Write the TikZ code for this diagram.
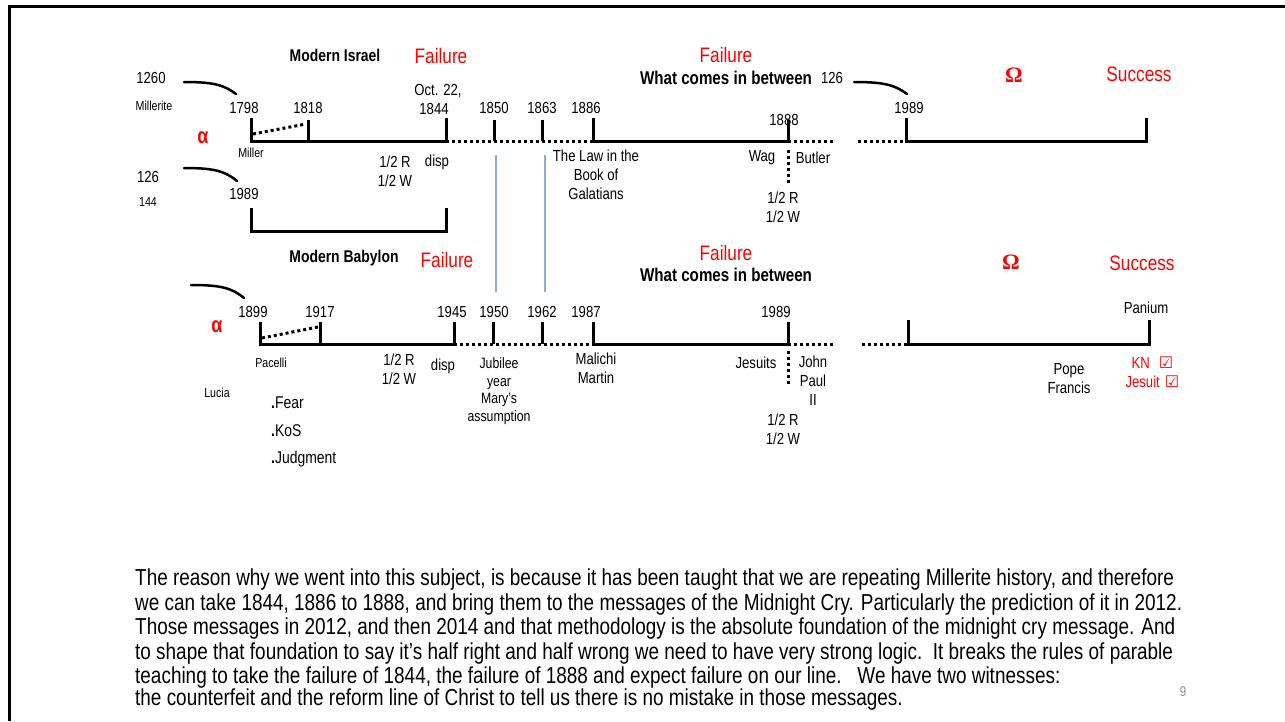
\documentclass[tikz,border=0pt]{standalone}
\usepackage{fontspec}
\setmainfont{Liberation Sans}[FakeStretch=0.82]
\newfontfamily\symf{DejaVu Sans}
\newfontfamily\serf{Liberation Serif}
\definecolor{failred}{RGB}{255,0,0}
\definecolor{bluel}{RGB}{143,170,220}
\definecolor{pgray}{RGB}{140,140,140}
\tikzset{
  lbl/.style={inner sep=0pt, font=\fontsize{16}{19}\selectfont, align=center},
  jub/.style={inner sep=0pt, font=\fontsize{15}{17.5}\selectfont, align=center},
  sml/.style={inner sep=0pt, font=\fontsize{13}{15}\selectfont},
  ttl/.style={inner sep=0pt, font=\bfseries\fontsize{17}{20}\selectfont},
  wcb/.style={inner sep=0pt, font=\bfseries\fontsize{18.5}{21}\selectfont},
  fail/.style={inner sep=0pt, text=failred, font=\fontsize{21}{24}\selectfont},
  grk/.style={inner sep=0pt, text=failred, font=\bfseries\fontsize{22}{24}\selectfont},
  omg/.style={inner sep=0pt, text=failred, font=\serf\bfseries\fontsize{22}{24}\selectfont},
  chk/.style={inner sep=0pt, text=failred, font=\fontsize{16}{18}\selectfont},
  bul/.style={inner sep=0pt, anchor=west, font=\fontsize{17}{20}\selectfont},
  para/.style={inner sep=0pt, anchor=west, font=\fontsize{23.1}{25}\selectfont},
  tl/.style={line width=3pt, line join=miter},
  dotl/.style={line width=3pt, dash pattern=on 3pt off 3pt},
  hook/.style={line width=2.5pt, line cap=round},
  bline/.style={line width=1.4pt, draw=bluel}
}
\begin{document}
\begin{tikzpicture}[x=1pt,y=-1pt]
\useasboundingbox (0,0) rectangle (1285,721);
\fill[white] (0,0) rectangle (1285,721);
% frame
\coordinate (fbl) at (9,721);
\coordinate (ftl) at (9,6);
\coordinate (ftr) at (1285,6);
\draw[line width=3pt] (fbl) -- (ftl) -- (ftr);

% ===== top timeline =====
\foreach \n/\x/\t in {t1/251/118, t2/308/120, t3/446/118, t4/494/120, t5/542/120, t6/593/118, t7/788/120, t10/906/118, t11/1146/118}{
  \coordinate (\n) at (\x,141); \coordinate (\n u) at (\x,\t);}
\coordinate (t8) at (833,141);
\coordinate (t9) at (858,141);

\node[lbl] (y1798) at (244,108) {1798};
\node[lbl] (y1818) at (308,108) {1818};
\node[lbl] (y1844) at (434,99) {\hspace*{8pt}Oct. 22,\\1844};
\node[lbl] (y1850) at (494,108) {1850};
\node[lbl] (y1863) at (542,108) {1863};
\node[lbl] (y1886) at (586,108) {1886};
\node[lbl] (y1888) at (784,120) {1888};
\node[lbl] (y1989a) at (909,108) {1989};

\draw[tl] (t1u) -- (t1) -- (t3) -- (t3u);
\draw[tl] (t2) -- (t2u);
\draw[tl] (t4) -- (t4u);
\draw[tl] (t5) -- (t5u);
\draw[tl] (t6u) -- (t6) -- (t7) -- (t7u);
\draw[tl] (t10u) -- (t10) -- (t11) -- (t11u);
\draw[dotl] (t3) -- (t6);
\draw[dotl] (t7) -- (t8);
\draw[dotl] (t9) -- (t10);
\coordinate (d1a) at (253,134); \coordinate (d1b) at (306,124);
\draw[dotl] (d1a) -- (d1b);
\coordinate (v1a) at (788,150); \coordinate (v1b) at (788,183);
\draw[dotl] (v1a) -- (v1b);

\node[lbl] (n1260) at (151,78) {1260};
\node[sml] (nmillerite) at (154,106) {Millerite};
\coordinate (h1a) at (184,82); \coordinate (h1b) at (236,94);
\draw[hook] (h1a) .. controls (214,82) and (224,85) .. (h1b);
\node[grk] (alpha1) at (203,138) {α};
\node[sml] (nmiller) at (251,153) {Miller};
\node[lbl] (hr1) at (395,171) {1/2 R\\1/2 W};
\node[lbl] (disp1) at (437,162) {disp};
\node[lbl] (galat) at (596,175) {The Law in the\\Book of\\Galatians};
\node[lbl] (wag) at (762,158) {Wag};
\node[lbl] (butler) at (813,158) {Butler};
\node[lbl] (hr2) at (783,207) {1/2 R\\1/2 W};

\node[ttl] (israel) at (335,55) {Modern Israel};
\node[fail] (fail1) at (441,56) {Failure};
\node[fail] (fail2) at (726,55) {Failure};
\node[wcb] (wcb1) at (726,78) {What comes in between};
\node[lbl] (n126b) at (832,78) {126};
\coordinate (h3a) at (854,82); \coordinate (h3b) at (907,94);
\draw[hook] (h3a) .. controls (884,82) and (895,85) .. (h3b);
\node[omg] (omega1) at (1014,75) {Ω};
\node[fail] (succ1) at (1139,74) {Success};

% bracket
\node[lbl] (n126a) at (148,177) {126};
\node[sml] (n144) at (148,202) {144};
\coordinate (h2a) at (184,168); \coordinate (h2b) at (237,181);
\draw[hook] (h2a) .. controls (214,168) and (225,171) .. (h2b);
\node[lbl] (y1989b) at (244,194) {1989};
\coordinate (b1u) at (251,208); \coordinate (b1) at (251,231);
\coordinate (b2) at (446,231); \coordinate (b2u) at (446,208);
\draw[tl] (b1u) -- (b1) -- (b2) -- (b2u);

% blue lines
\coordinate (bl1a) at (496,155); \coordinate (bl1b) at (496,292);
\coordinate (bl2a) at (545,155); \coordinate (bl2b) at (545,292);
\draw[bline] (bl1a) -- (bl1b);
\draw[bline] (bl2a) -- (bl2b);

% ===== bottom timeline =====
\foreach \n/\x/\t in {s1/260/322, s2/320/322, s3/454/322, s4/493/322, s5/542/322, s6/593/322, s7/788/322, s10/908/320, s11/1149/320}{
  \coordinate (\n) at (\x,344); \coordinate (\n u) at (\x,\t);}
\coordinate (s8) at (833,344);
\coordinate (s9) at (862,344);

\node[ttl] (babylon) at (344,258) {Modern Babylon};
\node[fail] (fail3) at (447,260) {Failure};
\node[fail] (fail4) at (726,253) {Failure};
\node[wcb] (wcb2) at (726,275) {What comes in between};
\node[omg] (omega2) at (1011,262) {Ω};
\node[fail] (succ2) at (1142,263) {Success};
\node[lbl] (panium) at (1146,308) {Panium};

\coordinate (h4a) at (191,285); \coordinate (h4b) at (244,298);
\draw[hook] (h4a) .. controls (221,285) and (232,288) .. (h4b);

\node[lbl] (y1899) at (253,312) {1899};
\node[lbl] (y1917) at (320,312) {1917};
\node[lbl] (y1945) at (452,312) {1945};
\node[lbl] (y1950) at (494,312) {1950};
\node[lbl] (y1962) at (542,312) {1962};
\node[lbl] (y1987) at (586,312) {1987};
\node[lbl] (y1989c) at (776,312) {1989};

\draw[tl] (s1u) -- (s1) -- (s3) -- (s3u);
\draw[tl] (s2) -- (s2u);
\draw[tl] (s4) -- (s4u);
\draw[tl] (s5) -- (s5u);
\draw[tl] (s6u) -- (s6) -- (s7) -- (s7u);
\draw[tl] (s10u) -- (s10) -- (s11) -- (s11u);
\draw[dotl] (s3) -- (s6);
\draw[dotl] (s7) -- (s8);
\draw[dotl] (s9) -- (s10);
\coordinate (d2a) at (262,338); \coordinate (d2b) at (318,327);
\draw[dotl] (d2a) -- (d2b);
\coordinate (v2a) at (788,351); \coordinate (v2b) at (788,386);
\draw[dotl] (v2a) -- (v2b);

\node[grk] (alpha2) at (217,327) {α};
\node[sml] (pacelli) at (271,363) {Pacelli};
\node[sml] (lucia) at (217,393) {Lucia};
\node[lbl] (hr3) at (399,369) {1/2 R\\1/2 W};
\node[lbl] (disp2) at (443,366) {disp};
\node[jub] (jubilee) at (499,391) {Jubilee\\year\\Mary’s\\assumption};
\node[lbl] (malichi) at (596,368) {Malichi\\Martin};
\node[lbl] (jesuits) at (756,363) {Jesuits};
\node[lbl] (jp2) at (813,381) {John\\Paul\\II};
\node[lbl] (hr4) at (783,429) {1/2 R\\1/2 W};
\node[lbl] (pope) at (1069,379) {Pope\\Francis};
\node[chk, anchor=east] (kn) at (1150,363) {KN};
\node[chk] (kncheck) at (1166,363) {\symf ☑};
\node[chk, anchor=east] (jes) at (1160,382) {Jesuit};
\node[chk] (jescheck) at (1172,382) {\symf ☑};

\node[bul] (fear) at (271,403) {\textbf{.}Fear};
\node[bul] (kos) at (271,431) {\textbf{.}KoS};
\node[bul] (judg) at (271,459) {\textbf{.}Judgment};

% paragraph
\node[para] (p1) at (135,580) {The reason why we went into this subject, is because it has been taught that we are repeating Millerite history, and therefore};
\node[para] (p2) at (135,604.5) {we can take 1844, 1886 to 1888, and bring them to the messages of the Midnight Cry. Particularly the prediction of it in 2012.};
\node[para] (p3) at (135,629) {Those messages in 2012, and then 2014 and that methodology is the absolute foundation of the midnight cry message. And};
\node[para] (p4) at (135,653.5) {to shape that foundation to say it’s half right and half wrong we need to have very strong logic.\ \ It breaks the rules of parable};
\node[para] (p5) at (135,678) {teaching to take the failure of 1844, the failure of 1888 and expect failure on our line.\ \ \ We have two witnesses:};
\node[para] (p6) at (135,700) {the counterfeit and the reform line of Christ to tell us there is no mistake in those messages.};

\node[inner sep=0pt, text=pgray, font=\fontsize{14}{16}\selectfont] (pnum) at (1183,692) {9};
\end{tikzpicture}
\end{document}
